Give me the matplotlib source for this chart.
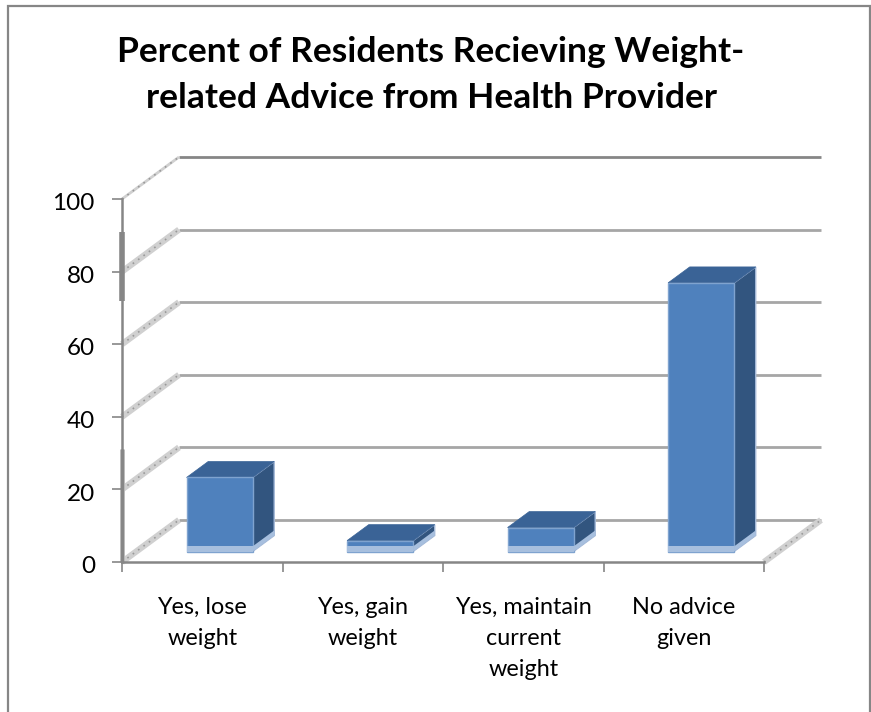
import matplotlib
matplotlib.use("Agg")
import matplotlib.pyplot as plt
from matplotlib.lines import Line2D
from matplotlib.patches import Polygon, Rectangle
from matplotlib.transforms import ScaledTranslation

categories = ["Yes, lose\nweight", "Yes, gain\nweight", "Yes, maintain\ncurrent\nweight", "No advice\ngiven"]
values = [20.4, 3, 6.6, 74]
yticks = [0, 20, 40, 60, 80, 100]
title = "Percent of Residents Recieving Weight-\nrelated Advice from Health Provider"

plt.rcParams['font.family'] = ['Lato', 'DejaVu Sans']

W, H = 871, 712
fig = plt.figure(figsize=(W / 100, H / 100), dpi=100)
fig.patch.set_facecolor("white")

# front plane of the fake 3d box
left, right, top, bottom = 122, 764, 199, 562
ax = fig.add_axes([left / W, 1 - bottom / H, (right - left) / W, (bottom - top) / H])
n = len(categories)
ax.set_xlim(0, n)
ax.set_ylim(0, 100)
ax.patch.set_alpha(0)

# depth of the box in data units
depth_x = 57 / (right - left) * n
depth_y = 42 / (bottom - top) * 100

for s in ["top", "right"]:
    ax.spines[s].set_visible(False)
for s in ["left", "bottom"]:
    ax.spines[s].set_color("#868686")
    ax.spines[s].set_linewidth(1.8)

ax.set_yticks(yticks)
ax.set_xticks(range(n + 1))
ax.set_xticklabels([])
ax.tick_params(axis="both", color="#868686", width=1.2, length=7, direction="out")
ax.tick_params(axis="y", labelsize=17.5, pad=12.5, labelcolor="black")
for lab in ax.get_yticklabels():
    lab.set_transform(lab.get_transform() + ScaledTranslation(0, -2 / 72, fig.dpi_scale_trans))

# the axis line looks heavier in places
ax.plot([0, 0], [72, 91], color="#868686", lw=4, clip_on=False, solid_capstyle="butt", zorder=2)
ax.plot([0, 0], [0, 31], color="#b8b8b8", lw=3.5, clip_on=False, solid_capstyle="butt", zorder=1.5)
ax.plot([0, 0], [0, 31], color="#868686", lw=2, clip_on=False, solid_capstyle="butt", zorder=2)

# walls
for v in yticks:
    c = "#868686" if v == 100 else "#a6a6a6"
    ax.plot([depth_x, n + depth_x], [v + depth_y, v + depth_y], color=c, lw=2,
            clip_on=False, zorder=1, solid_capstyle="butt")
    ax.plot([0, depth_x], [v, v + depth_y], color="#d0d0d0", lw=4.5 if v < 100 else 2,
            clip_on=False, zorder=1.1, solid_capstyle="butt")
    ax.plot([0, depth_x], [v, v + depth_y], color="#999999", lw=1.2, ls=(0, (1, 3)),
            clip_on=False, zorder=1.2)
ax.plot([n, n + depth_x], [0, depth_y], color="#d0d0d0", lw=4.5, clip_on=False, zorder=1.1, solid_capstyle="butt")
ax.plot([n, n + depth_x], [0, depth_y], color="#999999", lw=1.2, ls=(0, (1, 3)), clip_on=False, zorder=1.2)

# bars
bar_w = 66 / (right - left) * n
near, far = 0.25, 0.63
for i, v in enumerate(values):
    x0 = i + 0.5 - bar_w / 2 + depth_x * near + 0.019
    x1 = x0 + bar_w
    y0 = depth_y * near
    y1 = y0 + v
    dx = depth_x * (far - near)
    dy = depth_y * (far - near)
    z = 3 + i
    ax.add_patch(Polygon([(x1, y0), (x1 + dx, y0 + dy), (x1 + dx, y1 + dy), (x1, y1)],
                         fc="#32557f", ec="#a4b9d8", lw=1, clip_on=False, zorder=z))
    ax.add_patch(Polygon([(x1, y0), (x1 + dx, y0 + dy), (x1 + dx, y0 + dy + 1.4), (x1, y0 + 1.4)],
                         fc="#a7bfde", ec="none", clip_on=False, zorder=z + 0.2))
    ax.add_patch(Polygon([(x0, y1), (x0 + dx, y1 + dy), (x1 + dx, y1 + dy), (x1, y1)],
                         fc="#3a6396", ec="#3a6396", lw=0.5, clip_on=False, zorder=z))
    ax.add_patch(Rectangle((x0, y0), bar_w, v, fc="#4f81bd", ec="#7fa3cf", lw=1, clip_on=False, zorder=z))
    ax.add_patch(Rectangle((x0, y0), bar_w, 1.4, fc="#a7bfde", ec="none", clip_on=False, zorder=z + 0.5))

# category labels
for i, c in enumerate(categories):
    ax.text(i + 0.5, -9.6, c, ha="center", va="top", fontsize=16.8, linespacing=1.58, color="black")

fig.text(431 / W, 1 - 75 / H, title, ha="center", va="center", fontsize=25.5, fontweight="bold",
         linespacing=1.5, color="black")

# chart border, the bottom edge is cut off in the picture
bx = [8 / W, 8 / W, 870 / W, 870 / W]
by = [0, 1 - 6 / H, 1 - 6 / H, 0]
fig.add_artist(Line2D(bx, by, transform=fig.transFigure, color="#868686", lw=1.6, solid_joinstyle="miter"))

fig.savefig("out.png", dpi=100)
